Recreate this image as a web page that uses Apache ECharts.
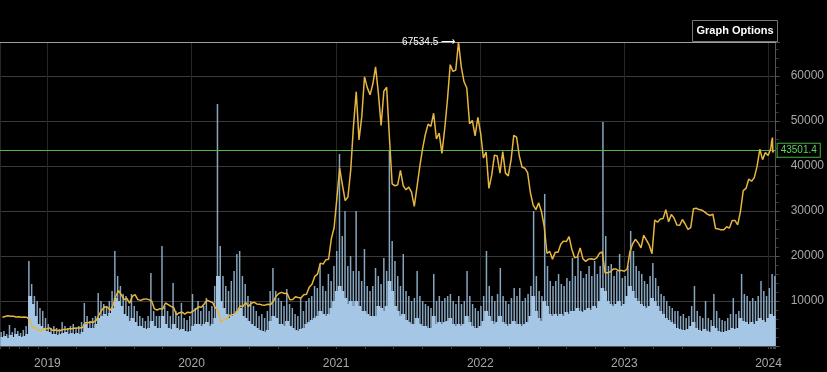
<!DOCTYPE html>
<html><head><meta charset="utf-8">
<script src="https://cdn.jsdelivr.net/npm/echarts@6/dist/echarts.min.js"></script>
<style>html,body{margin:0;padding:0;background:#000;}#c{width:827px;height:372px;}</style>
</head><body><div id="c"></div>
<script>
// ---- data (weekly samples starting at weekStart) ----
const weekStart = '2018-09-09';
const axisStart = '2018-09-08';
const axisEnd = '2024-01-14';
const yearLabels = ['2019','2020','2021','2022','2023','2024'];
const priceTickLabels = ['10000','20000','30000','40000','50000','60000'];

const price2018 = [6400,6550,6700,6620,6600,6450,6500,6400,6450,6350,5500,4000,4100,3600,3300,3900,3800];
const price2019 = [4030,3520,3540,3460,3450,3660,3670,3820,3830,3920,4010,3990,4100,5180,5150,5330,5290,5750,6990,8000,8740,8600,7940,8980,11000,12300,11400,10300,10600,9500,11000,11400,10300,10140,10380,10470,10300,9980,8240,7990,8290,8220,9550,9200,8800,8500,6900,7400,7510,7070,7520,7390];
const price2020 = [7760,8190,8700,8600,9340,10150,9920,9670,8530,8040,5360,5830,5880,6780,6910,7120,7700,8900,8750,9680,8790,9450,9760,9340,9300,9120,9080,9290,9170,9930,11070,11680,11910,11650,11710,10260,10330,10920,10780,10670,11380,11500,13030,13740,15480,15960,18410,18180,19150,19270,23850,26260];
const price2021 = [32800,39500,35800,32300,33100,39000,48800,56500,45800,50900,59800,57400,55800,58200,62000,56200,49000,56600,57500,46400,36000,35600,35800,39000,35600,34700,35300,34200,31000,35400,39900,43800,47000,49300,48800,51700,46000,47300,42800,48200,54700,62500,61000,61300,67534.5,62000,58700,57300,49400,50100,46700,50800];
const price2022 = [47300,41800,43100,35000,37900,42400,42200,38400,43200,38400,37800,41300,46800,46400,42200,39700,39500,38500,34100,31300,30300,31800,29900,26600,20600,21000,19300,20800,20800,22600,23300,23200,24300,21500,19600,19800,21800,19400,18800,19300,19400,19200,19600,20600,20900,16300,16300,16500,17100,17100,16700,16800];
const price2023 = [16600,17100,20900,22700,23700,22900,21800,24600,23500,22400,20500,28000,27500,28200,28300,30300,27600,29200,28400,26900,26800,28100,27100,25900,26300,30500,30600,30300,30200,29800,29300,29000,29300,26100,26000,25800,25800,26500,26200,27900,27900,26900,29900,34500,35000,37100,36600,37400,39900,43700,41400,43000,42300];
const price2024 = [43900];
const tailDates = ['2024-01-09','2024-01-11','2024-01-12','2024-01-14'];
const tailPrice = [45500,46300,43000,43501.4];

// volume (relative units): typical weekly level and weekly spike height
const volBase2018 = [9,10,8,11,9,12,10,9,10,12,50,42,30,22,20,18,15];
const volBase2019 = [14,12,12,11,12,13,14,12,13,12,13,12,14,22,18,18,18,22,28,30,32,30,33,38,48,45,40,32,30,25,28,24,20,20,18,17,18,25,20,18,18,30,22,18,17,22,18,16,17,15,14,15];
const volBase2020 = [20,22,22,20,22,24,20,22,28,70,45,38,32,28,30,32,35,38,30,28,25,22,20,18,16,15,14,16,25,30,28,22,22,20,25,20,18,16,15,17,18,22,24,26,28,30,35,32,30,32,38,45];
const volBase2021 = [55,60,55,48,42,45,40,45,40,35,35,32,30,30,30,40,38,35,40,65,55,40,35,30,32,26,24,22,22,28,22,20,20,18,18,30,22,24,22,24,25,28,22,20,22,20,22,30,24,20,18,18];
const volBase2022 = [20,25,35,30,25,22,24,30,24,22,20,22,25,22,22,20,22,24,30,50,35,28,25,45,40,32,30,32,30,32,30,34,32,35,35,38,35,34,36,38,36,40,38,45,58,55,45,42,40,42,45,40];
const volBase2023 = [42,50,60,55,48,45,42,40,38,40,48,45,40,35,32,28,26,24,22,18,17,16,16,17,20,24,18,16,15,17,15,14,20,18,15,14,14,15,16,18,17,18,28,25,24,22,24,22,25,28,26,24,28];
const volBase2024 = [32,30];

const volPeak2018 = [14,15,12,21,14,18,15,13,16,20,85,62,50,45,38,35,28];
const volPeak2019 = [22,18,20,18,17,24,20,18,20,22,18,20,24,43,30,25,28,30,53,45,42,40,45,55,95,70,60,52,50,40,52,40,35,30,28,25,30,73,35,30,30,100,40,35,30,63,35,30,43,28,26,30];
const volPeak2020 = [52,38,45,35,40,48,35,40,60,242,100,70,60,55,65,75,92,95,70,62,50,45,40,35,30,32,28,35,55,78,55,48,45,40,57,42,38,32,30,48,35,45,48,50,60,58,82,60,55,72,65,80];
const volPeak2021 = [95,192,110,135,80,90,75,135,75,65,97,60,55,60,78,70,62,88,75,195,105,85,70,60,92,55,50,45,48,75,50,45,42,40,38,72,45,50,45,48,50,52,45,42,50,42,45,75,50,42,38,35];
const volPeak2022 = [40,50,95,60,50,45,52,78,50,45,42,48,58,50,58,45,48,52,60,135,70,55,50,152,80,65,60,65,72,62,60,68,65,88,70,90,75,68,72,80,70,85,72,80,224,110,80,82,70,75,92,68];
const volPeak2023 = [70,80,115,95,80,75,72,65,62,70,83,68,60,52,50,45,40,38,35,35,30,32,28,30,40,60,35,30,28,45,28,26,52,35,28,26,25,28,32,48,32,35,72,52,50,45,48,45,50,65,55,50,58];
const volPeak2024 = [72,70];

// ---- build series data ----
function weekDate(i){ const d = new Date(weekStart + 'T00:00:00'); d.setDate(d.getDate() + 7*i); return d.getTime(); }
function ts(s){ return new Date(s + 'T00:00:00').getTime(); }
const weeklyPrice = [].concat(price2018, price2019, price2020, price2021, price2022, price2023, price2024);
const priceData = weeklyPrice.map((v,i)=>[weekDate(i), v]).concat(tailDates.map((d,i)=>[ts(d), tailPrice[i]]));
const volBase = [].concat(volBase2018, volBase2019, volBase2020, volBase2021, volBase2022, volBase2023, volBase2024);
const volPeak = [].concat(volPeak2018, volPeak2019, volPeak2020, volPeak2021, volPeak2022, volPeak2023, volPeak2024);
const volBaseData = volBase.map((v,i)=>[weekDate(i), v]);
const volPeakData = volPeak.map((v,i)=>[weekDate(i), v]);
const lastPrice = priceData[priceData.length-1][1];
const maxPrice = Math.max.apply(null, priceData.map(p=>p[1]));

const FONT = 'Liberation Sans, Arial, sans-serif';
const chart = echarts.init(document.getElementById('c'));
const DAY = 86400000;
const xCommon = {
  type: 'time', min: ts(axisStart), max: ts(axisEnd),
  minInterval: 365*DAY, maxInterval: 366*DAY
};
chart.setOption({
  backgroundColor: '#000',
  animation: false,
  grid: { left: 0, right: 49, top: 42, bottom: 26, containLabel: false },
  xAxis: [Object.assign({}, xCommon, {
    axisLine: { show: true, lineStyle: { color: '#555' } },
    axisTick: { show: true, length: 3, lineStyle: { color: '#444' } },
    minorTick: { show: true, splitNumber: 5, length: 3, lineStyle: { color: '#444' } },
    splitLine: { show: true, lineStyle: { color: '#262626', width: 1 } },
    axisLabel: {
      color: '#a8a8a8', fontSize: 12, fontFamily: FONT, margin: 12,
      formatter: function (v) { const y = String(new Date(v).getFullYear()); return yearLabels.indexOf(y) >= 0 ? y : ''; }
    }
  }), Object.assign({}, xCommon, { show: false })],
  yAxis: [{
    type: 'value', position: 'right', min: 0, max: 'dataMax', interval: 10000,
    axisLine: { show: true, lineStyle: { color: '#555' } },
    axisTick: { show: true, length: 4, lineStyle: { color: '#555' } },
    minorTick: { show: true, splitNumber: 5, length: 3, lineStyle: { color: '#3c3c3c' } },
    axisLabel: {
      color: '#a8a8a8', fontSize: 12, fontFamily: FONT, margin: 15,
      formatter: function (v) { const s = String(v); return priceTickLabels.indexOf(s) >= 0 ? s : ''; }
    },
    splitLine: { show: true, lineStyle: { color: '#3a3a3a', width: 1 } }
  }, {
    type: 'value', min: 0, max: 304, show: false, splitLine: { show: false }
  }],
  series: [{
    name: 'Volume spikes', type: 'bar', xAxisIndex: 1, yAxisIndex: 1,
    data: volPeakData, barWidth: 1.5, itemStyle: { color: '#86a5bf' }, z: 1
  }, {
    name: 'Volume', type: 'bar', xAxisIndex: 0, yAxisIndex: 1,
    data: volBaseData, barWidth: 4, itemStyle: { color: '#a5c7e5' }, z: 2
  }, {
    name: 'Price', type: 'line', xAxisIndex: 0, yAxisIndex: 0,
    data: priceData, showSymbol: false, symbol: 'none',
    lineStyle: { color: '#e6b63e', width: 1.5 }, z: 5,
    markLine: {
      silent: true, symbol: ['none', 'none'],
      data: [
        { yAxis: maxPrice, lineStyle: { color: '#a0a0a0', width: 1, type: 'solid' }, label: { show: false } },
        { yAxis: lastPrice, lineStyle: { color: '#4fb943', width: 1, type: 'solid' },
          label: { show: true, position: 'end', distance: 2, formatter: String(lastPrice),
                   color: '#5fd65a', fontSize: 10, fontFamily: FONT, backgroundColor: '#000',
                   borderColor: '#46b23d', borderWidth: 1, padding: [2, 3, 1, 3] } }
      ]
    },
    markPoint: {
      silent: true, symbol: 'circle', symbolSize: 1, itemStyle: { color: 'rgba(0,0,0,0)' },
      data: [{ type: 'max' }],
      label: { show: true, position: 'left', distance: 3, color: '#fff', fontSize: 10, fontFamily: FONT,
               formatter: function (p) { return p.value + ' \u27F6'; } }
    }
  }],
  graphic: [
    { type: 'rect', shape: { x: 692.5, y: 20.5, width: 85, height: 21 }, style: { fill: '#000', stroke: '#777', lineWidth: 1 }, z: 100 },
    { type: 'text', x: 735, y: 31, style: { text: 'Graph Options', fill: '#fff', font: 'bold 11px ' + FONT, align: 'center', verticalAlign: 'middle' }, z: 101 }
  ]
});
</script>
</body></html>
